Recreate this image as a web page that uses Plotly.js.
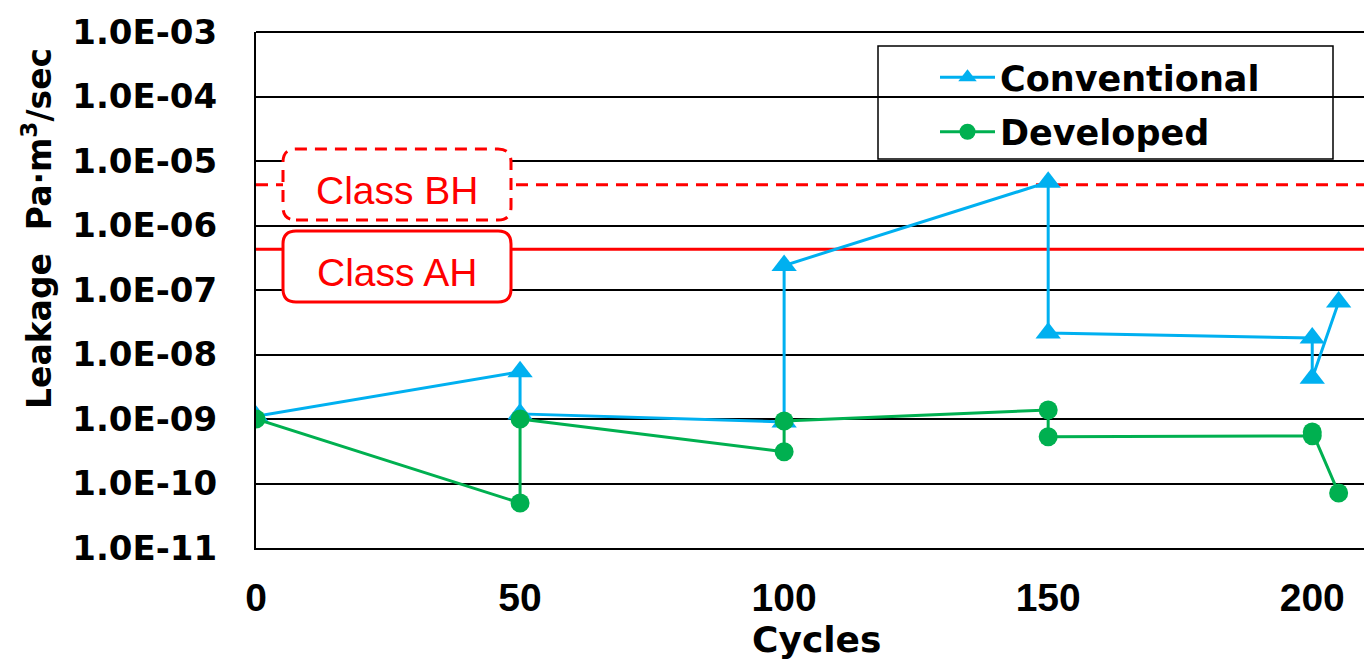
<!DOCTYPE html>
<html>
<head>
<meta charset="utf-8">
<script src="https://cdn.plot.ly/plotly-3.0.1.min.js"></script>
<style>html,body{margin:0;padding:0;background:#fff;}#chart{width:1364px;height:660px;}</style>
</head>
<body>
<div id="chart"></div>
<script>
// Data
var cyclesConventional = [0, 50, 50, 100, 100, 150, 150, 200, 200, 205];
var leakConventional   = [1.1e-9, 5.4e-9, 1.2e-9, 9.0e-10, 2.4e-7, 4.7e-6, 2.15e-8, 1.8e-8, 4.3e-9, 6.5e-8];
var cyclesDeveloped    = [0, 50, 50, 100, 100, 150, 150, 200, 200, 205];
var leakDeveloped      = [1.0e-9, 5.0e-11, 1.0e-9, 3.1e-10, 9.3e-10, 1.38e-9, 5.3e-10, 5.5e-10, 6.3e-10, 7.1e-11];
var classNames  = ['Class BH', 'Class AH'];
var classLimits = [4.3e-6, 4.3e-7];
var yTickVals  = [1e-11, 1e-10, 1e-9, 1e-8, 1e-7, 1e-6, 1e-5, 1e-4, 1e-3];
var yTickText  = ['1.0E-11','1.0E-10','1.0E-09','1.0E-08','1.0E-07','1.0E-06','1.0E-05','1.0E-04','1.0E-03'];
var xTickVals  = [0, 50, 100, 150, 200];

var BLUE = '#00B0F0', GREEN = '#00B050', RED = '#FF0000';
var wideFont  = {family: 'DejaVu Sans', size: 34, color: '#000', weight: 'bold'};
var legFont   = {family: 'DejaVu Sans', size: 35, color: '#000', weight: 'bold'};
var titleFont = {family: 'DejaVu Sans', size: 33, color: '#000', weight: 'bold'};
var cycFont   = {family: 'DejaVu Sans', size: 36, color: '#000', weight: 'bold'};
var xFont     = {family: 'Liberation Sans', size: 39, color: '#000', weight: 'bold'};

var traces = [
  {x: [0, 220], y: [classLimits[0], classLimits[0]], mode: 'lines', showlegend: false, hoverinfo: 'skip',
   line: {color: RED, width: 3, dash: '12px,8px'}},
  {x: [0, 220], y: [classLimits[1], classLimits[1]], mode: 'lines', showlegend: false, hoverinfo: 'skip',
   line: {color: RED, width: 3}},
  {x: cyclesConventional, y: leakConventional, name: 'Conventional', mode: 'lines+markers', legendgroup: 'a',
   line: {color: BLUE, width: 3}, marker: {symbol: 'triangle-up', size: 22, color: BLUE}},
  {x: cyclesDeveloped, y: leakDeveloped, name: 'Developed', mode: 'lines+markers', legendgroup: 'b',
   line: {color: GREEN, width: 3}, marker: {symbol: 'circle', size: 19, color: GREEN}}
];

// plot area geometry in px (for paper-coordinate boxes)
var PW = 1108, PH = 516, L = 256, T = 32;
function px2x(p){ return (p - L) / PW; }
function py2y(p){ return (T + PH - p) / PH; }
function roundRect(x0p, y0p, x1p, y1p, r){
  var x0 = px2x(x0p), x1 = px2x(x1p), yt = py2y(y0p), yb = py2y(y1p);
  var rx = r / PW, ry = r / PH;
  return 'M' + (x0+rx) + ',' + yb + ' L' + (x1-rx) + ',' + yb +
    ' Q' + x1 + ',' + yb + ' ' + x1 + ',' + (yb+ry) +
    ' L' + x1 + ',' + (yt-ry) + ' Q' + x1 + ',' + yt + ' ' + (x1-rx) + ',' + yt +
    ' L' + (x0+rx) + ',' + yt + ' Q' + x0 + ',' + yt + ' ' + x0 + ',' + (yt-ry) +
    ' L' + x0 + ',' + (yb+ry) + ' Q' + x0 + ',' + yb + ' ' + (x0+rx) + ',' + yb + ' Z';
}

var shapes = [
  {type: 'line', xref: 'paper', yref: 'paper', layer: 'between', x0: 0, x1: 1, y0: 1, y1: 1,
   line: {color: '#000', width: 2}},
  {type: 'path', xref: 'paper', yref: 'paper', layer: 'above', path: roundRect(283, 149, 511, 220, 13),
   fillcolor: '#fff', line: {color: RED, width: 3, dash: '12px,8px'}},
  {type: 'path', xref: 'paper', yref: 'paper', layer: 'above', path: roundRect(283, 231, 511, 302, 13),
   fillcolor: '#fff', line: {color: RED, width: 3}},
  {type: 'rect', xref: 'paper', yref: 'paper', layer: 'between',
   x0: px2x(878), x1: px2x(1333), y0: py2y(159), y1: py2y(46),
   fillcolor: '#fff', line: {color: '#000', width: 1.5}}
];

var annotations = [
  {xref: 'paper', yref: 'paper', x: px2x(397), y: py2y(190), text: classNames[0], showarrow: false,
   xanchor: 'center', yanchor: 'middle', font: {family: 'Liberation Sans', size: 39, color: RED}},
  {xref: 'paper', yref: 'paper', x: px2x(397), y: py2y(272), text: classNames[1], showarrow: false,
   xanchor: 'center', yanchor: 'middle', font: {family: 'Liberation Sans', size: 39, color: RED}},
  {xref: 'paper', yref: 'paper', x: px2x(816), y: py2y(639), text: 'Cycles', showarrow: false,
   xanchor: 'center', yanchor: 'middle', font: cycFont},
  {xref: 'paper', yref: 'paper', x: px2x(37), y: py2y(229), text: 'Leakage\u00a0\u00a0Pa\u00b7m<sup>3</sup>/sec',
   showarrow: false, textangle: -90, xanchor: 'center', yanchor: 'middle', font: titleFont}
];

var layout = {
  width: 1364, height: 660,
  margin: {l: L, r: 0, t: T, b: 660 - T - PH, pad: 0},
  paper_bgcolor: '#fff', plot_bgcolor: '#fff',
  showlegend: true,
  legend: {x: px2x(935), y: py2y(48), xanchor: 'left', yanchor: 'top', bgcolor: 'rgba(0,0,0,0)',
           borderwidth: 0, font: legFont, itemwidth: 55, tracegroupgap: 6},
  xaxis: {range: [0, 209.8], tickvals: xTickVals, showgrid: false, showline: true, linecolor: '#000',
          linewidth: 2, ticks: '', zeroline: false, tickfont: xFont, ticklabelstandoff: 14},
  yaxis: {type: 'log', range: [-11, -3], tickvals: yTickVals, ticktext: yTickText, showgrid: true,
          gridcolor: '#000', gridwidth: 2, showline: true, linecolor: '#000', linewidth: 2, ticks: '',
          zeroline: false, tickfont: wideFont, ticklabelstandoff: 30},
  shapes: shapes,
  annotations: annotations
};

Plotly.newPlot('chart', traces, layout, {displayModeBar: false, staticPlot: true});
</script>
</body>
</html>
